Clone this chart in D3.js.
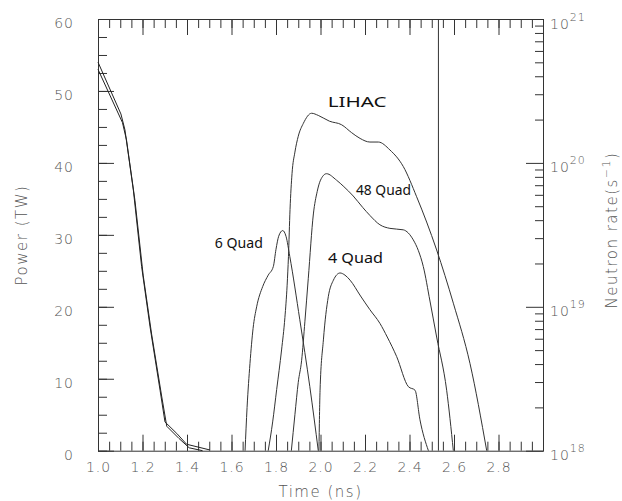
<!DOCTYPE html>
<html>
<head>
<meta charset="utf-8">
<script src="https://cdn.jsdelivr.net/npm/d3@7"></script>
<style>
  body { margin: 0; background: #fff; }
  text { font-family: "DejaVu Sans", "Liberation Sans", sans-serif; font-weight: 200; }
  text.note { font-family: "Noto Sans", sans-serif; font-weight: 400; }
</style>
</head>
<body>
<svg width="622" height="501"></svg>
<script>
// tick labels
const timeTicks = [1.0, 1.2, 1.4, 1.6, 1.8, 2.0, 2.2, 2.4, 2.6, 2.8];
const powerTicks = [0, 10, 20, 30, 40, 50, 60];
const rateTicks = [1e18, 1e19, 1e20, 1e21];

// laser power, drawn as a double line  [time (ns), power (TW)]
const powerA = [[1.0, 54.0], [1.103, 46.8], [1.121, 44.6], [1.159, 36.2], [1.196, 25.6],
  [1.234, 17.2], [1.279, 8.4], [1.301, 4.0], [1.354, 2.4], [1.398, 0.9], [1.503, 0.1]];
const powerB = [[1.0, 53.0], [1.110, 45.6], [1.128, 43.2], [1.166, 34.8], [1.203, 24.4],
  [1.241, 16.2], [1.286, 7.6], [1.309, 3.4], [1.364, 1.7], [1.41, 0.4], [1.47, 0.0]];

// neutron-rate traces, read in the left-axis units
const sixQuad = [[1.661, 0], [1.670, 6], [1.683, 12.1], [1.697, 17], [1.713, 20], [1.740, 22.8],
  [1.765, 24.4], [1.788, 25.6], [1.800, 28], [1.812, 29.8], [1.830, 30.6], [1.845, 29.8],
  [1.862, 27], [1.907, 18.2], [1.952, 8.9], [1.99, 0]];
const lihac = [[1.765, 0], [1.785, 4], [1.803, 8.5], [1.825, 14], [1.840, 18.5], [1.850, 23],
  [1.856, 27], [1.863, 33.5], [1.872, 38.5], [1.885, 41.5], [1.90, 43.7], [1.923, 45.5],
  [1.96, 46.9], [1.99, 46.6], [2.04, 45.8], [2.095, 45.3], [2.14, 44.2], [2.178, 43.4],
  [2.222, 42.9], [2.26, 42.9], [2.312, 41.8], [2.372, 39.5], [2.432, 35.3], [2.522, 27.9],
  [2.597, 20.5], [2.672, 12.1], [2.747, 0]];
const quad48 = [[1.869, 0], [1.885, 5], [1.900, 9.5], [1.915, 12.5], [1.930, 18], [1.945, 23.9],
  [1.968, 32.9], [1.985, 36], [2.00, 37.6], [2.027, 38.5], [2.072, 37.6], [2.105, 36.7],
  [2.147, 35.4], [2.19, 33.8], [2.222, 32.7], [2.267, 31.4], [2.312, 30.9], [2.372, 30.7],
  [2.417, 29.3], [2.44, 27.8], [2.462, 25.6], [2.492, 20.8], [2.522, 15.8], [2.567, 8.4],
  [2.597, 0]];
const quad4 = [[1.993, 0], [1.998, 8.4], [2.013, 15.4], [2.035, 21.4], [2.058, 23.7],
  [2.088, 24.7], [2.11, 24.4], [2.133, 23.7], [2.18, 21.5], [2.222, 19.6], [2.267, 17.7],
  [2.30, 15.8], [2.342, 13.1], [2.395, 8.9], [2.425, 8.4], [2.447, 4.3], [2.485, 0]];

const markerTime = 2.53;

const labels = [
  { text: "LIHAC", t: 2.165, p: 48.4, w: 59 },
  { text: "48 Quad", t: 2.283, p: 36.3, w: 55 },
  { text: "6 Quad", t: 1.633, p: 28.8, w: 48 },
  { text: "4 Quad", t: 2.157, p: 26.8, w: 55 }
];

const svg = d3.select("svg");
const plotLeft = 98, plotRight = 543, plotTop = 19, plotBottom = 450.7;

const x = d3.scaleLinear().domain([1, 3]).range([plotLeft, plotRight]);
const y = d3.scaleLinear().domain([0, 60]).range([plotBottom, plotTop]);
const yR = d3.scaleLog().domain([1e18, 1e21]).range([plotBottom, plotTop]);

const tickColor = "#333";
const textColor = "#555";
const fontSize = 14;

function styleAxis(g) {
  g.select(".domain").remove();
  g.selectAll(".tick line").attr("stroke", tickColor);
  g.selectAll("text").attr("fill", textColor).attr("font-size", fontSize)
    .attr("letter-spacing", 1).attr("font-family", null);
}

const minorT = d3.range(1, 3.001, 0.05);
const minorP = d3.range(0, 60.01, 2.5);

// bottom
svg.append("g").attr("transform", `translate(0,${plotBottom})`)
  .call(d3.axisBottom(x).tickValues(minorT).tickSize(-9).tickFormat(""))
  .call(styleAxis);
svg.append("g").attr("transform", `translate(0,${plotBottom})`)
  .call(d3.axisBottom(x).tickValues(timeTicks).tickSize(-16).tickPadding(11.5)
    .tickFormat(d3.format(".1f")))
  .call(styleAxis);

// top
svg.append("g").attr("transform", `translate(0,${plotTop})`)
  .call(d3.axisTop(x).tickValues(minorT).tickSize(-9).tickFormat(""))
  .call(styleAxis);
svg.append("g").attr("transform", `translate(0,${plotTop})`)
  .call(d3.axisTop(x).tickValues(timeTicks).tickSize(-16).tickFormat(""))
  .call(styleAxis);

// left
svg.append("g").attr("transform", `translate(${plotLeft},0)`)
  .call(d3.axisLeft(y).tickValues(minorP).tickSize(-9).tickFormat(""))
  .call(styleAxis);
svg.append("g").attr("transform", `translate(${plotLeft},0)`)
  .call(d3.axisLeft(y).tickValues(powerTicks).tickSize(-16).tickPadding(24))
  .call(styleAxis)
  .call(g => g.selectAll("text").attr("dy", "0.62em"));

// right (log)
const minorR = yR.ticks().filter(d => !rateTicks.includes(d));
svg.append("g").attr("transform", `translate(${plotRight},0)`)
  .call(d3.axisRight(yR).tickValues(minorR).tickSize(-8).tickFormat(""))
  .call(styleAxis);
const rAxis = svg.append("g").attr("transform", `translate(${plotRight},0)`)
  .call(d3.axisRight(yR).tickValues(rateTicks).tickSize(-17).tickFormat(""))
  .call(styleAxis);
rAxis.selectAll(".tick").append("text")
  .attr("x", 7).attr("y", 9).attr("fill", textColor)
  .attr("font-size", fontSize).attr("letter-spacing", 1)
  .each(function (d) {
    const t = d3.select(this);
    t.append("tspan").text("10");
    t.append("tspan").attr("dy", -8).attr("font-size", 11).text(Math.round(Math.log10(d)));
  });

// frame
svg.append("rect")
  .attr("x", plotLeft + 0.5).attr("y", plotTop + 0.5)
  .attr("width", plotRight - plotLeft).attr("height", plotBottom - plotTop)
  .attr("fill", "none").attr("stroke", "#333");

// axis titles
svg.append("text")
  .attr("transform", `translate(27,235) rotate(-90)`)
  .attr("text-anchor", "middle").attr("fill", textColor)
  .attr("font-size", 15).attr("letter-spacing", 1.5)
  .text("Power (TW)");

const rTitle = svg.append("text")
  .attr("transform", `translate(617,230) rotate(-90)`)
  .attr("text-anchor", "middle").attr("fill", textColor)
  .attr("font-size", 15).attr("letter-spacing", 1.5);
rTitle.append("tspan").text("Neutron rate(s");
rTitle.append("tspan").attr("dy", -7).attr("font-size", 11).text("\u22121");
rTitle.append("tspan").attr("dy", 7).text(")");

svg.append("text")
  .attr("x", (plotLeft + plotRight) / 2).attr("y", 497)
  .attr("text-anchor", "middle").attr("fill", textColor)
  .attr("font-size", 15).attr("letter-spacing", 1.5)
  .text("Time (ns)");

// curves
const linear = d3.line().x(d => x(d[0])).y(d => y(d[1]));
const smooth = d3.line().x(d => x(d[0])).y(d => y(d[1])).curve(d3.curveMonotoneX);

const plot = svg.append("g").attr("fill", "none").attr("stroke-width", 1);

[powerA, powerB].forEach(s => {
  plot.append("path").datum(s).attr("d", linear).attr("stroke", "#222");
});
[sixQuad, lihac, quad48, quad4].forEach(s => {
  plot.append("path").datum(s).attr("d", smooth).attr("stroke", "#333");
});

plot.append("line")
  .attr("x1", x(markerTime)).attr("x2", x(markerTime))
  .attr("y1", y(0)).attr("y2", y(60))
  .attr("stroke", "#333");

// hand-written annotations
svg.append("g").selectAll("text").data(labels).join("text")
  .attr("class", "note")
  .attr("x", d => x(d.t) - d.w / 2).attr("y", d => y(d.p) + 5)
  .attr("textLength", d => d.w).attr("lengthAdjust", "spacingAndGlyphs")
  .attr("font-size", 14).attr("fill", "#111")
  .text(d => d.text);
</script>
</body>
</html>
